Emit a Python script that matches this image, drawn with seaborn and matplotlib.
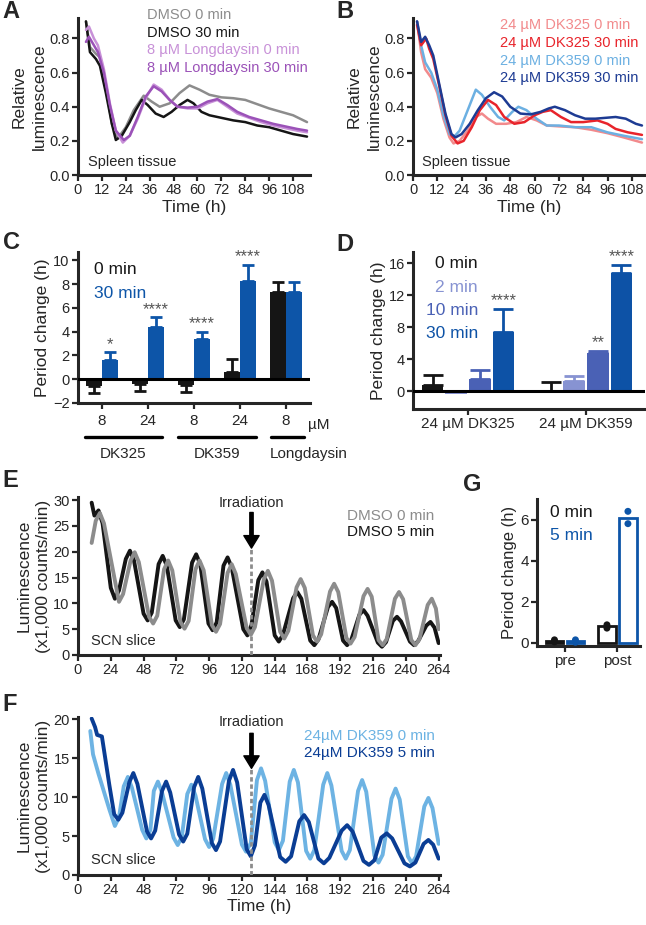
import numpy as np
import pandas as pd
import matplotlib
matplotlib.use("Agg")
import matplotlib.pyplot as plt
import seaborn as sns

sns.set_style("ticks")
plt.rcParams["font.family"] = ["Liberation Sans", "DejaVu Sans"]

# ---------- data ----------
# A: spleen tissue, DMSO / Longdaysin
a_dmso0_t = [4, 6, 9, 11, 14, 17, 20, 24, 28, 33, 37, 41, 46, 51, 56, 61, 66, 72, 78, 84, 90, 96, 102, 108, 115]
a_dmso0_v = [0.90, 0.75, 0.71, 0.69, 0.52, 0.30, 0.215, 0.28, 0.38, 0.465, 0.43, 0.40, 0.42, 0.48, 0.525, 0.50,
             0.47, 0.455, 0.45, 0.44, 0.415, 0.39, 0.37, 0.35, 0.31]
a_dmso30_t = [4, 6, 9, 11, 14, 17, 19, 22, 26, 29, 32, 35, 39, 43, 47, 51, 55, 58, 62, 66, 72, 78, 84, 90, 96, 102, 108, 115]
a_dmso30_v = [0.90, 0.72, 0.68, 0.64, 0.48, 0.30, 0.205, 0.23, 0.31, 0.38, 0.44, 0.41, 0.36, 0.34, 0.37, 0.41,
              0.44, 0.42, 0.37, 0.35, 0.335, 0.32, 0.31, 0.29, 0.28, 0.26, 0.24, 0.225]
a_ld0_t = [4, 5.5, 8, 10, 13, 16, 19, 22.5, 26, 30, 34, 38, 42, 46, 50, 55, 60, 65, 70, 75, 80, 86, 92, 98, 104, 110, 115]
a_ld0_v = [0.85, 0.87, 0.80, 0.76, 0.62, 0.42, 0.26, 0.19, 0.23, 0.33, 0.45, 0.53, 0.50, 0.44, 0.40, 0.39, 0.39,
           0.42, 0.44, 0.40, 0.36, 0.335, 0.31, 0.29, 0.275, 0.26, 0.25]
a_ld30_t = [4, 5.5, 8, 10, 13, 16, 19, 23, 26, 30, 34, 38, 42, 46, 50, 55, 60, 65, 70, 75, 80, 86, 92, 98, 104, 110, 115]
a_ld30_v = [0.78, 0.81, 0.76, 0.72, 0.60, 0.41, 0.26, 0.205, 0.23, 0.34, 0.46, 0.52, 0.49, 0.44, 0.40, 0.395, 0.40,
            0.43, 0.445, 0.41, 0.37, 0.34, 0.32, 0.30, 0.285, 0.27, 0.26]

# B: spleen tissue, DK325 / DK359
b_dk325_0_t = [2, 4, 6, 9, 12, 15, 18, 20, 23, 27, 31, 34, 37, 41, 46, 51, 56, 61, 66, 72, 80, 88, 96, 104, 113]
b_dk325_0_v = [0.90, 0.72, 0.62, 0.57, 0.48, 0.33, 0.22, 0.185, 0.20, 0.26, 0.34, 0.36, 0.33, 0.30, 0.30, 0.31,
               0.34, 0.32, 0.29, 0.285, 0.28, 0.265, 0.245, 0.22, 0.19]
b_dk325_30_t = [2, 4, 6.5, 8, 10, 13, 16, 19, 22, 25, 29, 33, 37, 41, 45, 50, 55, 60, 64, 68, 73, 78, 84, 91, 96,
                100, 106, 113]
b_dk325_30_v = [0.88, 0.76, 0.80, 0.74, 0.68, 0.52, 0.35, 0.23, 0.185, 0.20, 0.28, 0.38, 0.44, 0.41, 0.34, 0.30,
                0.31, 0.35, 0.37, 0.38, 0.34, 0.31, 0.31, 0.32, 0.30, 0.27, 0.25, 0.235]
b_dk359_0_t = [2, 4, 6, 9, 12, 15, 18, 20, 23, 27, 31, 34, 38, 42, 45, 49, 52, 56, 61, 66, 72, 80, 88, 96, 104, 113]
b_dk359_0_v = [0.90, 0.76, 0.66, 0.60, 0.50, 0.35, 0.24, 0.22, 0.26, 0.38, 0.50, 0.47, 0.40, 0.34, 0.32, 0.37,
               0.40, 0.38, 0.33, 0.29, 0.29, 0.28, 0.28, 0.25, 0.23, 0.21]
b_dk359_30_t = [2, 4, 6, 8, 10, 13, 16, 19, 21, 24, 28, 32, 36, 40, 44, 48, 53, 58, 63, 67, 70, 75, 80, 85, 90, 95,
                100, 105, 110, 113]
b_dk359_30_v = [0.90, 0.78, 0.81, 0.76, 0.70, 0.53, 0.36, 0.24, 0.22, 0.24, 0.30, 0.38, 0.45, 0.485, 0.46, 0.40,
                0.36, 0.355, 0.37, 0.39, 0.40, 0.38, 0.35, 0.33, 0.33, 0.335, 0.34, 0.33, 0.30, 0.29]

# C: period change, 0 vs 30 min
c_groups = ["DK325 8", "DK325 24", "DK359 8", "DK359 24", "Longdaysin 8"]
c_conc = ["8", "24", "8", "24", "8"]
c_0min = [-0.6, -0.4, -0.5, 0.6, 7.3]
c_0min_err = [0.6, 0.55, 0.55, 1.1, 0.9]
c_30min = [1.6, 4.4, 3.4, 8.3, 7.3]
c_30min_err = [0.65, 0.8, 0.55, 1.3, 0.9]
c_0min_stars = ["", "", "", "", ""]
c_30min_stars = ["*", "****", "****", "****", ""]

# D: period change by irradiation time
d_groups = ["24 µM DK325", "24 µM DK359"]
d_times = ["0 min", "2 min", "10 min", "30 min"]
d_0min = [0.8, 0.0]
d_2min = [-0.35, 1.35]
d_10min = [1.55, 4.85]
d_30min = [7.4, 14.8]
d_0min_err = [1.2, 1.2]
d_2min_err = [0.0, 0.6]
d_10min_err = [1.1, 0.2]
d_30min_err = [2.9, 1.0]
d_stars = ["", "", "", "", "", "**", "****", "****"]  # per bar, time-major

# E: SCN slice, DMSO
e_dmso0_t = [10, 13, 16, 19, 30, 33, 38.5, 41.5, 44.5, 52, 55, 58, 63, 66, 69, 75, 78, 81, 86, 89, 92, 98, 101,
             104, 109.5, 112.5, 115.5, 123.5, 126.5, 129.5, 136, 139, 142, 148, 151, 154, 160, 163, 166, 172, 175,
             178, 184.5, 187.5, 190.5, 196.5, 199.5, 202.5, 209, 212, 215, 220, 223, 226, 232, 235, 238, 244, 247,
             250, 256, 259, 262, 264]
e_dmso0_v = [21.7, 26.0, 27.5, 25.5, 10.3, 11.8, 18.3, 19.9, 18.0, 7.4, 6.1, 7.6, 16.6, 18.3, 16.4, 6.4, 5.1, 6.6,
             16.6, 18.3, 16.4, 5.8, 4.5, 6.0, 15.9, 17.6, 15.7, 5.2, 3.9, 5.4, 14.6, 16.3, 14.4, 4.5, 3.2, 4.7,
             13.1, 14.7, 13.0, 3.8, 2.6, 4.0, 12.3, 13.8, 12.2, 3.3, 2.2, 3.5, 11.4, 12.8, 11.3, 2.9, 1.9, 3.1,
             10.9, 12.2, 10.8, 2.9, 1.9, 3.1, 9.7, 10.9, 9.0, 5.0]
e_dmso5_t = [10, 12, 15, 18, 24, 27, 30, 35, 38, 41, 48, 51, 54, 59, 62, 65, 71.5, 74.5, 77.5, 83.5, 86.5, 89.5,
             95.5, 98.5, 101.5, 106.5, 109.5, 112.5, 121, 124, 127, 132, 135, 138, 144, 147, 150, 157.5, 160.5,
             163.5, 170, 173, 176, 183, 186, 189, 194, 197, 200, 206, 209, 212, 219.5, 222.5, 225.5, 230.5, 233.5,
             236.5, 243, 246, 249, 255, 258, 261, 264]
e_dmso5_v = [29.5, 27.0, 28.0, 25.5, 13.0, 10.9, 12.5, 18.6, 20.2, 18.3, 8.0, 6.7, 8.2, 17.6, 19.2, 17.3, 6.7, 5.4,
             6.9, 17.9, 19.5, 17.6, 6.1, 4.8, 6.3, 17.3, 18.9, 17.0, 5.0, 3.8, 5.8, 14.5, 16.0, 14.2, 3.8, 2.6, 3.9,
             11.0, 12.2, 10.9, 2.8, 1.9, 3.0, 9.3, 10.3, 9.1, 2.8, 1.9, 2.9, 7.8, 8.7, 7.6, 2.4, 1.6, 2.5, 6.6, 7.4,
             6.5, 2.6, 1.9, 2.7, 5.7, 6.4, 5.3, 2.3]

# F: SCN slice, 24 µM DK359
f_dk0_t = [9, 11, 15, 23, 27, 30, 33.5, 36.5, 39.5, 47, 50, 53, 55.5, 58.5, 61.5, 70, 73, 76, 80, 83, 86, 93, 96,
           99, 105.5, 108.5, 111.5, 120, 123, 126.5, 131, 134, 137, 144, 147, 150, 155, 158, 161, 167, 170, 173,
           179.5, 182.5, 185.5, 193, 196, 199, 205, 208, 211, 217, 220, 223, 229.5, 232.5, 235.5, 241.5, 244.5,
           247.5, 253.5, 256.5, 259.5, 264]
f_dk0_v = [18.5, 15.5, 13.0, 8.4, 6.3, 7.4, 11.4, 12.6, 11.2, 5.8, 4.7, 5.8, 10.8, 12.0, 10.6, 4.8, 3.85, 4.9,
           10.4, 11.6, 10.2, 4.6, 3.6, 4.7, 11.7, 13.1, 11.6, 3.9, 3.0, 4.1, 12.2, 13.7, 12.1, 4.2, 3.2, 4.4, 12.0,
           13.5, 11.9, 3.1, 2.1, 3.2, 11.6, 13.1, 11.5, 3.1, 2.1, 3.2, 10.8, 12.2, 10.7, 2.5, 1.6, 2.6, 9.8, 11.1,
           9.7, 2.4, 1.5, 2.4, 8.8, 9.9, 8.6, 4.0]
f_dk5_t = [10, 12.5, 14, 17.5, 23, 26.5, 29.5, 32.5, 37.5, 40.5, 43.5, 50.5, 53.5, 56.5, 61.5, 64.5, 67.5, 74, 77,
           80, 85, 88, 91, 98, 101, 104, 110.5, 113.5, 116.5, 123.5, 126.5, 129.5, 133.5, 136.5, 139.5, 148, 152,
           156, 162, 165.5, 169, 176, 180, 184, 193, 197, 201, 209, 213, 217, 222, 226, 230, 239, 243, 247, 253,
           256.5, 260, 264]
f_dk5_v = [20.1, 19.0, 18.0, 17.8, 11.5, 7.8, 7.1, 8.0, 11.9, 13.1, 11.7, 5.6, 4.7, 5.7, 10.8, 12.0, 10.6, 5.2,
           4.3, 5.3, 11.3, 12.6, 11.1, 4.1, 3.2, 4.3, 12.1, 13.5, 11.9, 3.3, 2.4, 3.8, 9.3, 10.3, 9.0, 2.3, 1.7,
           2.4, 6.9, 7.7, 6.8, 2.1, 1.5, 2.2, 5.7, 6.4, 5.6, 1.8, 1.3, 1.9, 4.8, 5.35, 4.7, 1.5, 1.1, 1.6, 4.0, 4.5,
           3.9, 2.1]
irradiation_t = 127

# G: period change pre/post
g_phase = ["pre", "pre", "pre", "pre", "post", "post", "post", "post"]
g_dose = ["0 min", "0 min", "5 min", "5 min", "0 min", "0 min", "5 min", "5 min"]
g_values = [0.15, 0.05, 0.15, 0.03, 0.88, 0.72, 6.4, 5.8]

# ---------- colours ----------
black = "#151515"
gray = "#8c8c8c"
lavender = "#c891d8"
purple = "#9b52b8"
pink = "#f28a8c"
red = "#e8242b"
lightblue = "#6cb0e2"
navy = "#1d3b93"
blue = "#0d55a8"
d_colors = [black, "#8793d2", "#4a61b5", "#0d52a6"]
f_light = "#6db3e3"
f_dark = "#0a3d94"

W, H = 646, 925
fig = plt.figure(figsize=(W / 100, H / 100), dpi=100)


def px_axes(left, top, right, bottom):
    return fig.add_axes([left / W, 1 - bottom / H, (right - left) / W, (bottom - top) / H])


def style(ax, labelsize=10.5):
    sns.despine(ax=ax)
    for s in ["left", "bottom"]:
        ax.spines[s].set_linewidth(2.2)
    ax.tick_params(direction="out", length=4, width=1.6, labelsize=labelsize, pad=2)


def bar_errors(ax, errs, stars, capsize):
    for patch, err, star in zip(ax.patches, errs, stars):
        x = patch.get_x() + patch.get_width() / 2
        h = patch.get_height()
        col = patch.get_facecolor()
        if h >= 0:
            yerr = [[0], [err]]
            top = h + err
        else:
            yerr = [[err], [0]]
            top = h
        if err > 0:
            ax.errorbar(x, h, yerr=yerr, fmt="none", ecolor=col, elinewidth=2,
                        capsize=capsize, capthick=2)
        if star:
            ax.annotate(star, (x, top), xytext=(0, 0.5), textcoords="offset points",
                        ha="center", va="bottom", fontsize=12, color="#555555")


# ---------- A ----------
axA = px_axes(78, 18, 310, 175)
for t, v, c in [(a_dmso0_t, a_dmso0_v, gray), (a_dmso30_t, a_dmso30_v, black),
                (a_ld0_t, a_ld0_v, lavender), (a_ld30_t, a_ld30_v, purple)]:
    sns.lineplot(x=t, y=v, color=c, linewidth=1.8, ax=axA)
axA.set_xlim(0, 116.5)
axA.set_ylim(0, 0.92)
axA.set_xticks(range(0, 109, 12))
axA.set_yticks([0, 0.2, 0.4, 0.6, 0.8])
axA.set_yticklabels(["0.0", "0.2", "0.4", "0.6", "0.8"])
axA.set_xlabel("Time (h)", fontsize=12.5, labelpad=2)
axA.set_ylabel("Relative\nluminescence", fontsize=12.5, labelpad=2, linespacing=1.4)
for i, (txt, c) in enumerate([("DMSO 0 min", gray), ("DMSO 30 min", black),
                              ("8 µM Longdaysin 0 min", lavender), ("8 µM Longdaysin 30 min", purple)]):
    axA.text(0.297, 1.02 - i * 0.113, txt, color=c, fontsize=10.5, transform=axA.transAxes, va="center")
axA.text(0.043, 0.083, "Spleen tissue", fontsize=10.5, transform=axA.transAxes, va="center")
style(axA)

# ---------- B ----------
axB = px_axes(413, 18, 645, 175)
for t, v, c in [(b_dk325_0_t, b_dk325_0_v, pink), (b_dk359_0_t, b_dk359_0_v, lightblue),
                (b_dk325_30_t, b_dk325_30_v, red), (b_dk359_30_t, b_dk359_30_v, navy)]:
    sns.lineplot(x=t, y=v, color=c, linewidth=1.8, ax=axB)
axB.set_xlim(0, 114.5)
axB.set_ylim(0, 0.92)
axB.set_xticks(range(0, 109, 12))
axB.set_yticks([0, 0.2, 0.4, 0.6, 0.8])
axB.set_yticklabels(["0.0", "0.2", "0.4", "0.6", "0.8"])
axB.set_xlabel("Time (h)", fontsize=12.5, labelpad=2)
axB.set_ylabel("Relative\nluminescence", fontsize=12.5, labelpad=2, linespacing=1.4)
for i, (txt, c) in enumerate([("24 µM DK325 0 min", pink), ("24 µM DK325 30 min", red),
                              ("24 µM DK359 0 min", lightblue), ("24 µM DK359 30 min", navy)]):
    axB.text(0.375, 0.955 - i * 0.113, txt, color=c, fontsize=10.5, transform=axB.transAxes, va="center")
axB.text(0.039, 0.083, "Spleen tissue", fontsize=10.5, transform=axB.transAxes, va="center")
style(axB)

# ---------- C ----------
axC = px_axes(78, 252, 310, 403)
c_df = pd.DataFrame({"group": c_groups * 2,
                     "time": ["0 min"] * 5 + ["30 min"] * 5,
                     "value": c_0min + c_30min})
sns.barplot(data=c_df, x="group", y="value", hue="time", palette=[black, blue], width=0.68, gap=0,
            errorbar=None, legend=False, saturation=1, linewidth=0, ax=axC)
bar_errors(axC, c_0min_err + c_30min_err, c_0min_stars + c_30min_stars, capsize=4.5)
axC.axhline(0, color="black", lw=2.2, zorder=3)
axC.set_xlim(-0.52, 4.52)
axC.set_ylim(-2, 10.7)
axC.set_yticks(range(-2, 11, 2))
axC.set_xticks(range(5))
axC.set_xticklabels(c_conc, fontsize=11)
axC.set_xlabel("")
axC.set_ylabel("Period change (h)", fontsize=12.5, labelpad=2)
style(axC)
axC.tick_params(axis="x", labelsize=11, pad=4)
xt = axC.get_xaxis_transform()
axC.text(4.72, -0.146, "µM", fontsize=11, transform=xt, va="center", ha="center")
for x0, x1, xm, name in [(-0.37, 1.31, 0.46, "DK325"), (1.66, 3.35, 2.5, "DK359"),
                         (3.68, 4.38, 4.5, "Longdaysin")]:
    axC.plot([x0, x1], [-0.225, -0.225], color="black", lw=2.4, transform=xt, clip_on=False)
    axC.text(xm, -0.335, name, fontsize=11, transform=xt, ha="center", va="center")
axC.text(0.07, 0.887, "0 min", color=black, fontsize=12.5, transform=axC.transAxes, va="center")
axC.text(0.07, 0.728, "30 min", color=blue, fontsize=12.5, transform=axC.transAxes, va="center")

# ---------- D ----------
axD = px_axes(413, 252, 645, 409)
d_df = pd.DataFrame({"group": d_groups * 4,
                     "time": [tm for tm in d_times for _ in d_groups],
                     "value": d_0min + d_2min + d_10min + d_30min})
sns.barplot(data=d_df, x="group", y="value", hue="time", palette=d_colors, width=0.8, gap=0.08,
            errorbar=None, legend=False, saturation=1, linewidth=0, ax=axD)
bar_errors(axD, d_0min_err + d_2min_err + d_10min_err + d_30min_err, d_stars, capsize=7)
axD.axhline(0, color="black", lw=2.2, zorder=3)
axD.set_xlim(-0.466, 1.5)
axD.set_ylim(-2.2, 17.4)
axD.set_yticks([0, 4, 8, 12, 16])
axD.set_xlabel("")
axD.set_ylabel("Period change (h)", fontsize=12.5, labelpad=2)
style(axD)
axD.tick_params(axis="x", labelsize=11, pad=2)
for i, (txt, c) in enumerate(zip(d_times, d_colors)):
    axD.text(0.28, 0.924 - i * 0.148, txt, color=c, fontsize=12.5, transform=axD.transAxes,
             va="center", ha="right")


def irradiation(ax, y_head, y_tail, y_text):
    ax.plot([irradiation_t, irradiation_t], [0, y_head], ls=(0, (1.6, 1.0)), color="#8c8c8c",
            lw=2, zorder=5)
    ax.annotate("", xy=(irradiation_t, y_head), xytext=(irradiation_t, y_tail),
                arrowprops=dict(facecolor="black", edgecolor="black", width=2.4, headwidth=11,
                                headlength=9, shrink=0), annotation_clip=False)
    ax.text(irradiation_t, y_text, "Irradiation", ha="center", va="center", fontsize=10.5)


# ---------- E ----------
axE = px_axes(78, 497, 440, 655)
sns.lineplot(x=e_dmso5_t, y=e_dmso5_v, color=black, linewidth=2.8, ax=axE)
sns.lineplot(x=e_dmso0_t, y=e_dmso0_v, color=gray, linewidth=2.8, ax=axE)
axE.set_xlim(0, 265)
axE.set_ylim(0, 30.6)
axE.set_xticks(range(0, 265, 24))
axE.set_yticks(range(0, 31, 5))
axE.set_ylabel("Luminescence\n(x1,000 counts/min)", fontsize=12.5, labelpad=2, linespacing=1.3)
irradiation(axE, 20.7, 27.6, 29.4)
axE.text(0.983, 0.88, "DMSO 0 min", color=gray, fontsize=11, transform=axE.transAxes, ha="right", va="center")
axE.text(0.983, 0.778, "DMSO 5 min", color=black, fontsize=11, transform=axE.transAxes, ha="right", va="center")
axE.text(0.036, 0.089, "SCN slice", fontsize=10.5, transform=axE.transAxes, va="center")
style(axE, 10.5)

# ---------- F ----------
axF = px_axes(78, 717, 440, 875)
sns.lineplot(x=f_dk0_t, y=f_dk0_v, color=f_light, linewidth=2.8, ax=axF)
sns.lineplot(x=f_dk5_t, y=f_dk5_v, color=f_dark, linewidth=2.8, ax=axF)
axF.set_xlim(0, 265)
axF.set_ylim(0, 20.3)
axF.set_xticks(range(0, 265, 24))
axF.set_yticks(range(0, 21, 5))
axF.set_xlabel("Time (h)", fontsize=12.5, labelpad=1)
axF.set_ylabel("Luminescence\n(x1,000 counts/min)", fontsize=12.5, labelpad=2, linespacing=1.3)
irradiation(axF, 13.7, 18.2, 19.6)
axF.text(0.986, 0.88, "24µM DK359 0 min", color=f_light, fontsize=11, transform=axF.transAxes,
         ha="right", va="center")
axF.text(0.986, 0.772, "24µM DK359 5 min", color=f_dark, fontsize=11, transform=axF.transAxes,
         ha="right", va="center")
axF.text(0.036, 0.095, "SCN slice", fontsize=10.5, transform=axF.transAxes, va="center")
style(axF, 10.5)

# ---------- G ----------
axG = px_axes(537, 499, 640, 646)
g_df = pd.DataFrame({"phase": g_phase, "dose": g_dose, "value": g_values})
sns.barplot(data=g_df, x="phase", y="value", hue="dose", palette=[black, blue], fill=False,
            errorbar=None, legend=False, linewidth=2, gap=0.15, ax=axG)
sns.stripplot(data=g_df, x="phase", y="value", hue="dose", palette=[black, blue], dodge=True,
              jitter=False, size=5, legend=False, ax=axG, zorder=4)
axG.set_xlim(-0.533, 1.43)
axG.set_ylim(-0.15, 7.0)
axG.set_yticks([0, 2, 4, 6])
axG.set_xlabel("")
axG.set_ylabel("Period change (h)", fontsize=12, labelpad=2)
style(axG, 11)
axG.text(0.126, 0.91, "0 min", color=black, fontsize=12.5, transform=axG.transAxes, va="center")
axG.text(0.126, 0.755, "5 min", color=blue, fontsize=12.5, transform=axG.transAxes, va="center")

# ---------- panel letters ----------
for letter, x, y in [("A", 2, 0), ("B", 336, 0), ("C", 3, 231), ("D", 336, 233),
                     ("E", 2, 469), ("G", 463, 473), ("F", 2, 693)]:
    fig.text(x / W, 1 - y / H, letter, fontsize=17, fontweight="bold", va="top", ha="left")

fig.savefig("out.png", dpi=100)
